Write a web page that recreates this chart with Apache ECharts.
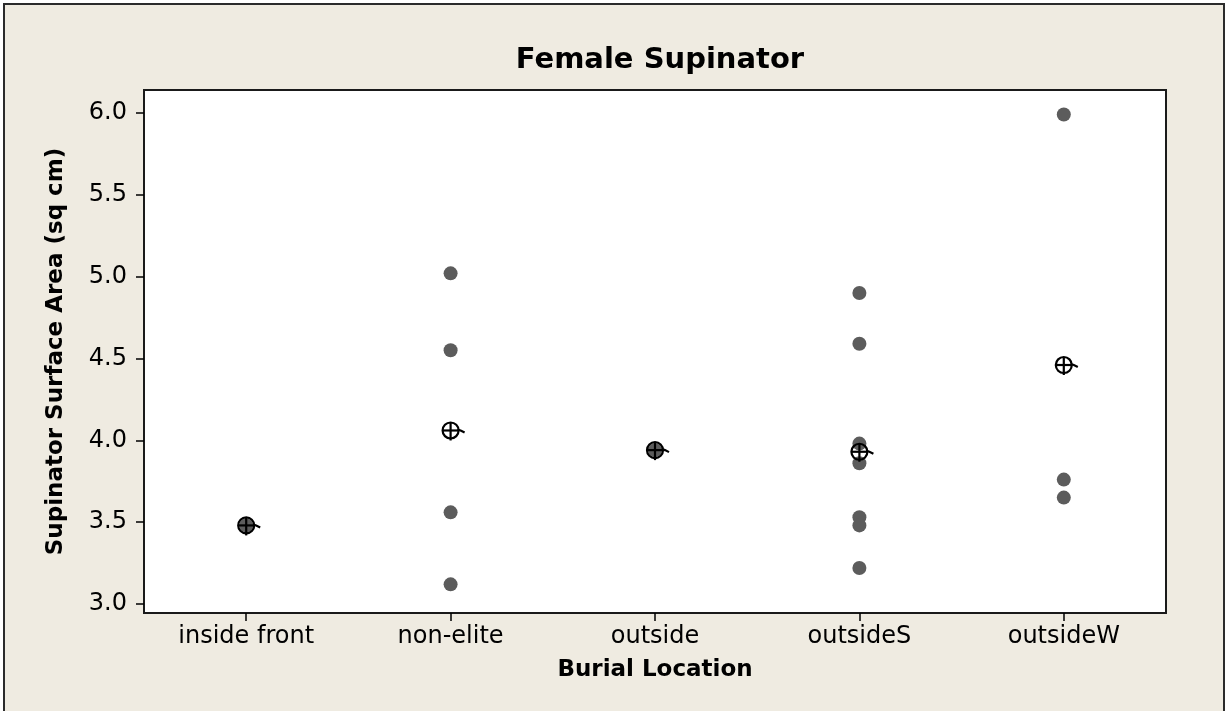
<!DOCTYPE html>
<html>
<head>
<meta charset="utf-8">
<title>Female Supinator</title>
<script src="https://cdn.jsdelivr.net/npm/echarts@6/dist/echarts.min.js"></script>
<style>
  html, body { margin: 0; padding: 0; background: #fff; }
  #main { width: 1231px; height: 711px; }
</style>
</head>
<body>
<div id="main"></div>
<script>
// categories and values
var categories = ['inside front', 'non-elite', 'outside', 'outsideS', 'outsideW'];
var insideFront = [3.48];
var nonElite = [5.02, 4.55, 3.56, 3.12];
var outside = [3.94];
var outsideS = [4.90, 4.59, 3.98, 3.86, 3.53, 3.48, 3.22];
var outsideW = [5.99, 3.76, 3.65];
var means = [3.48, 4.06, 3.94, 3.93, 4.46];
var yTicks = [3.0, 3.5, 4.0, 4.5, 5.0, 5.5, 6.0];

var groups = [insideFront, nonElite, outside, outsideS, outsideW];
var points = [];
groups.forEach(function (vals, i) {
    vals.forEach(function (v) { points.push([i, v]); });
});
var meanPoints = means.map(function (m, i) { return [i, m]; });

var font = 'DejaVu Sans';
var myChart = echarts.init(document.getElementById('main'));

var option = {
    backgroundColor: '#fff',
    animation: false,
    graphic: [{
        type: 'rect',
        z: -10,
        silent: true,
        shape: { x: 4, y: 4, width: 1220, height: 720 },
        style: { fill: '#efebe1', stroke: '#2b2b2b', lineWidth: 2 }
    }],
    title: {
        text: 'Female Supinator',
        left: 655,
        textAlign: 'center',
        top: 41,
        textStyle: { fontFamily: font, fontWeight: 'bold', fontSize: 29, color: '#000' }
    },
    grid: {
        left: 144, right: 65, top: 90, bottom: 98,
        show: true,
        backgroundColor: '#fff',
        borderColor: '#1a1a1a',
        borderWidth: 2
    },
    xAxis: {
        type: 'category',
        data: categories,
        boundaryGap: true,
        name: 'Burial Location',
        nameLocation: 'middle',
        nameGap: 46,
        nameTextStyle: { fontFamily: font, fontWeight: 'bold', fontSize: 23, color: '#000' },
        axisLine: { show: false },
        axisTick: { show: true, alignWithLabel: true, length: 8, lineStyle: { color: '#000', width: 1.5 } },
        axisLabel: { fontFamily: font, fontSize: 24, color: '#000', margin: 12 },
        splitLine: { show: false }
    },
    yAxis: {
        type: 'value',
        min: 2.945,
        max: 6.14,
        name: 'Supinator Surface Area (sq cm)',
        nameLocation: 'middle',
        nameGap: 76,
        nameTextStyle: { fontFamily: font, fontWeight: 'bold', fontSize: 23, color: '#000' },
        axisLine: { show: false },
        axisTick: { show: true, length: 8, customValues: yTicks, lineStyle: { color: '#000', width: 1.5 } },
        axisLabel: {
            fontFamily: font, fontSize: 24, color: '#000', margin: 17,
            customValues: yTicks,
            formatter: function (v) { return v.toFixed(1); }
        },
        splitLine: { show: false }
    },
    series: [
        {
            type: 'scatter',
            data: points,
            symbol: 'circle',
            symbolSize: 14,
            itemStyle: { color: '#5c5c5c', opacity: 1 },
            z: 2
        },
        {
            type: 'custom',
            data: meanPoints,
            z: 3,
            renderItem: function (params, api) {
                var p = api.coord([api.value(0), api.value(1)]);
                var x = p[0], y = p[1], r = 8;
                var st = { stroke: '#000', lineWidth: 2.2, fill: null };
                return {
                    type: 'group',
                    children: [
                        { type: 'circle', shape: { cx: x, cy: y, r: r }, style: { stroke: '#000', lineWidth: 2.2, fill: 'none' } },
                        { type: 'line', shape: { x1: x - r, y1: y, x2: x + r, y2: y }, style: st },
                        { type: 'line', shape: { x1: x, y1: y - r, x2: x, y2: y + r + 2 }, style: st },
                        { type: 'polyline', shape: { points: [[x + r - 1, y - 1], [x + 10, y], [x + 14, y + 2]] }, style: st }
                    ]
                };
            }
        }
    ]
};

myChart.setOption(option);

window.addEventListener('resize', function () {
    myChart.resize();
});
</script>
</body>
</html>
